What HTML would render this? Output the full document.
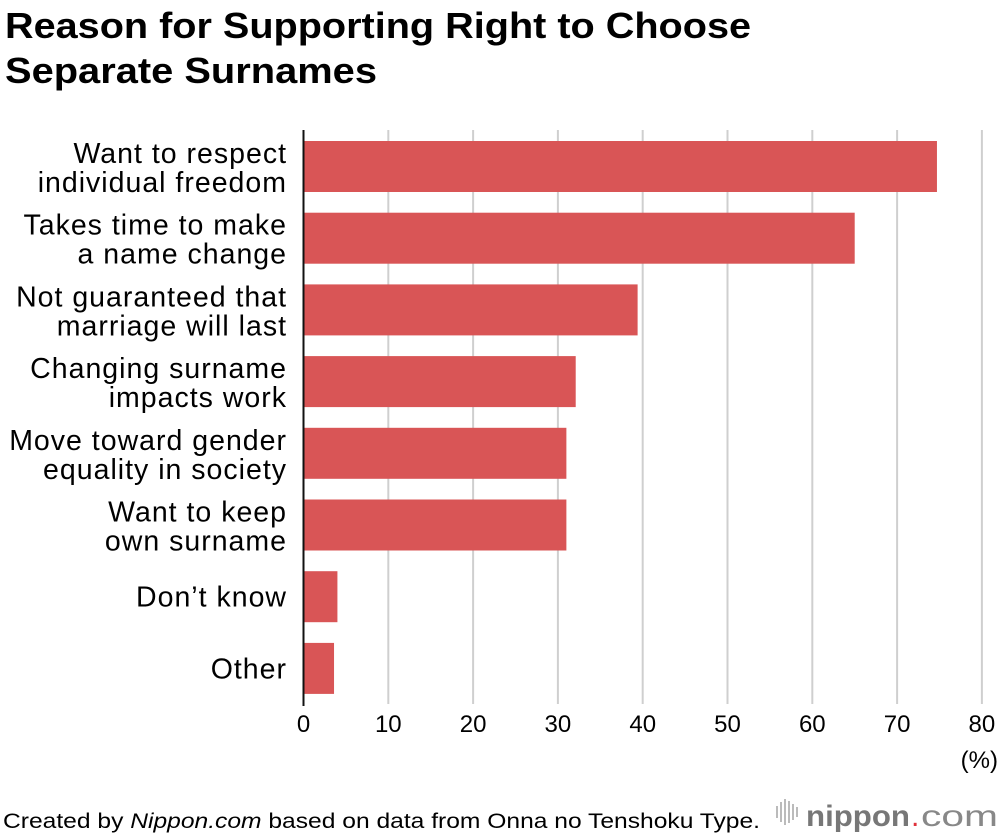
<!DOCTYPE html>
<html><head><meta charset="utf-8"><style>
html,body{margin:0;padding:0;background:#fff;}
svg{display:block;font-family:"Liberation Sans",Arial,sans-serif;}
</style></head><body>
<svg id="chart" width="1000" height="834" viewBox="0 0 1000 834" xmlns="http://www.w3.org/2000/svg">
<text x="5" y="38" font-size="36" font-weight="bold" fill="#000" textLength="746" lengthAdjust="spacingAndGlyphs">Reason for Supporting Right to Choose</text>
<text x="5" y="83" font-size="36" font-weight="bold" fill="#000" textLength="372" lengthAdjust="spacingAndGlyphs">Separate Surnames</text>
<g id="grid"></g>
<g id="bars"></g>
<g id="labels"></g>
<g id="ticks"></g>
<line x1="303.5" y1="130" x2="303.5" y2="706" stroke="#111" stroke-width="2"/>
<text x="998" y="768" font-size="24" text-anchor="end" fill="#000">(%)</text>
<text x="3" y="828" font-size="21" fill="#000" textLength="757" lengthAdjust="spacingAndGlyphs">Created by <tspan font-style="italic">Nippon.com</tspan> based on data from Onna no Tenshoku Type.</text>
<g>
<g fill="#bbb">
<rect x="776" y="806" width="2" height="12"/><rect x="780" y="802" width="2" height="20"/><rect x="784" y="799" width="2" height="26"/><rect x="788" y="801" width="2" height="22"/><rect x="792" y="804" width="2" height="16"/><rect x="796" y="807" width="2" height="10"/>
</g>
<text x="806" y="826" font-size="30" font-weight="bold" fill="#777" textLength="104" lengthAdjust="spacingAndGlyphs">nippon</text>
<text x="911" y="826" font-size="30" fill="#e0323c">.</text>
<text x="921" y="826" font-size="30" fill="#888" textLength="77" lengthAdjust="spacingAndGlyphs">com</text>
</g>
</svg>
<script>
const categories = [
  ["Want to respect","individual freedom"],
  ["Takes time to make","a name change"],
  ["Not guaranteed that","marriage will last"],
  ["Changing surname","impacts work"],
  ["Move toward gender","equality in society"],
  ["Want to keep","own surname"],
  ["Don\u2019t know"],
  ["Other"]
];
const values = [74.7, 65.0, 39.4, 32.1, 31.0, 31.0, 4.0, 3.6];
const tickValues = [0,10,20,30,40,50,60,70,80];
const tickLabels = ["0","10","20","30","40","50","60","70","80"];

const NS = "http://www.w3.org/2000/svg";
const x0 = 303.5, xPerUnit = 8.48;
function xScale(v){ return x0 + v * xPerUnit; }
const top0 = 141, pitch = 71.7, barH = 51;
function yBand(i){ return top0 + i * pitch; }
function mk(tag, attrs){ const e = document.createElementNS(NS, tag); for (const k in attrs) e.setAttribute(k, attrs[k]); return e; }

const grid = document.getElementById('grid');
const ticks = document.getElementById('ticks');
tickValues.forEach((t, i) => {
  if (t > 0) {
    const l = mk('line', {x1: xScale(t), x2: xScale(t), y1: 130, y2: 704, stroke: '#cfcfcf', 'stroke-width': 2});
    
    
    grid.appendChild(l);
  }
  const tx = mk('text', {x: xScale(t), y: 732, 'font-size': 24, 'text-anchor': 'middle', fill: '#000'});
  tx.textContent = tickLabels[i];
  
  
  ticks.appendChild(tx);
});

const bars = document.getElementById('bars');
const labels = document.getElementById('labels');
values.forEach((v, i) => {
  const y = yBand(i);
  const r = mk('rect', {x: x0, y: y, width: xScale(v) - x0, height: barH, fill: '#d95556'});
  
  
  bars.appendChild(r);
  const c = y + barH / 2;
  const lines = categories[i];
  const tx = mk('text', {x: 287, 'font-size': 28.5, 'letter-spacing': 1, 'text-anchor': 'end', fill: '#000'});
  
  
  if (lines.length === 1) {
    tx.setAttribute('y', c + 10);
    tx.textContent = lines[0];
  } else {
    lines.forEach((s, j) => {
      const ts = mk('tspan', {x: 287, y: c - 3.5 + j * 29});
      ts.textContent = s;
      tx.appendChild(ts);
    });
  }
  labels.appendChild(tx);
});
</script>
</body></html>
